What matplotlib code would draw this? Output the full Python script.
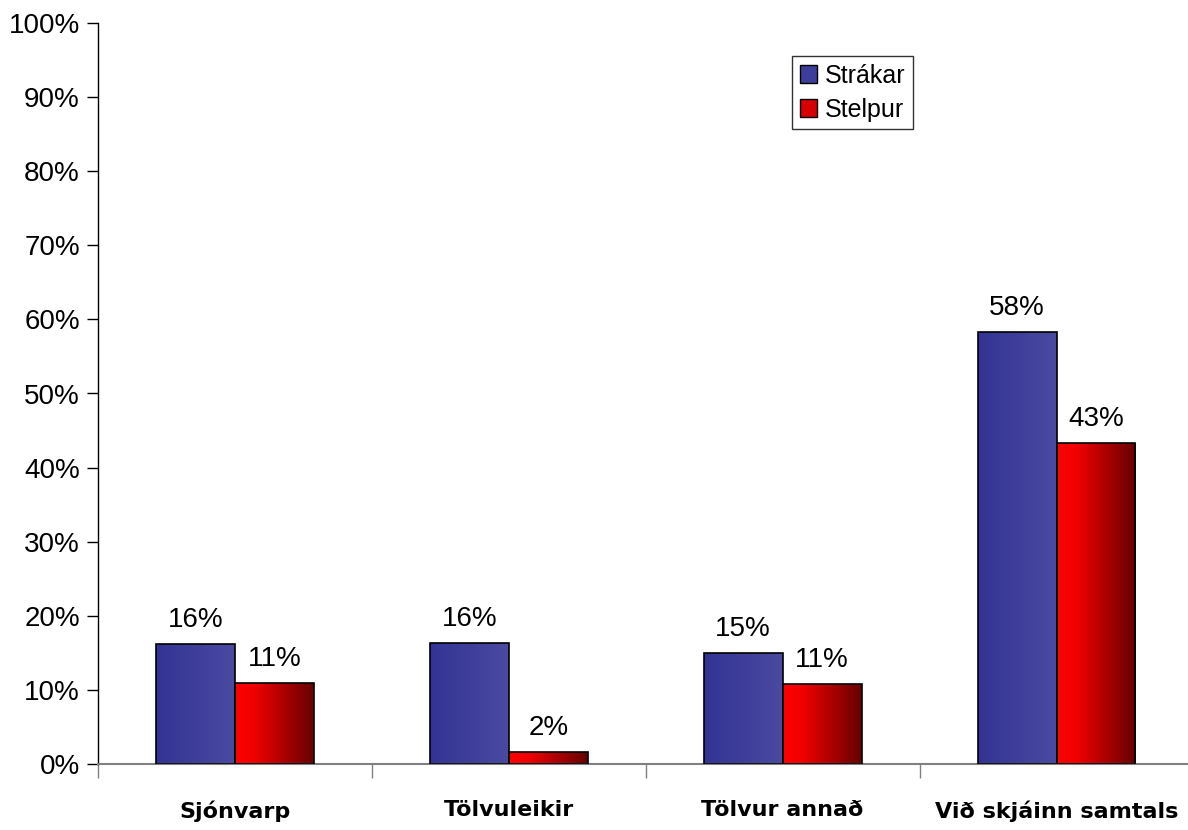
import numpy as np
import matplotlib
matplotlib.use("Agg")
import matplotlib.pyplot as plt
from matplotlib.colors import LinearSegmentedColormap
from matplotlib.patches import Rectangle
from matplotlib.ticker import FixedLocator, PercentFormatter

# data
categories = ["Sjónvarp", "Tölvuleikir", "Tölvur annað", "Við skjáinn samtals"]
strakar = [16.2, 16.3, 15.0, 58.3]
stelpur = [10.9, 1.6, 10.8, 43.3]
strakar_labels = ["16%", "16%", "15%", "58%"]
stelpur_labels = ["11%", "2%", "11%", "43%"]

plt.rcParams["font.family"] = ["Liberation Sans", "DejaVu Sans"]

blue_cmap = LinearSegmentedColormap.from_list("blue", ["#333395", "#4a4aa0"])
red_cmap = LinearSegmentedColormap.from_list("red", [(0, "#ff0000"), (0.25, "#f00000"), (1, "#660000")])

fig = plt.figure(figsize=(11.88, 8.30), dpi=100)
ax = fig.add_axes([98 / 1188, 66 / 830, 1090 / 1188, 741 / 830])

x = np.arange(len(categories))
w = 0.288


def gradient_bars(xs, heights, cmap):
    bars = ax.bar(xs, heights, width=w, color="none", edgecolor="black", linewidth=1.2, zorder=3)
    grad = np.linspace(0, 1, 256).reshape(1, -1)
    for b in bars:
        x0, y0 = b.get_x(), b.get_y()
        im = ax.imshow(grad, cmap=cmap, aspect="auto", zorder=2,
                       extent=[x0, x0 + b.get_width(), y0, y0 + b.get_height()])
        im.set_clip_path(b)
    return bars


b1 = gradient_bars(x - w / 2, strakar, blue_cmap)
b2 = gradient_bars(x + w / 2, stelpur, red_cmap)

for bars, labels in [(b1, strakar_labels), (b2, stelpur_labels)]:
    for b, lab in zip(bars, labels):
        ax.annotate(lab, (b.get_x() + b.get_width() / 2, b.get_height()),
                    xytext=(0, 8), textcoords="offset points",
                    ha="center", va="bottom", fontsize=20)

ax.set_xlim(-0.5, len(categories) - 0.5 - 0.02)
ax.set_ylim(0, 100)

ax.yaxis.set_major_locator(FixedLocator(np.arange(0, 101, 10)))
ax.yaxis.set_major_formatter(PercentFormatter(decimals=0))
ax.tick_params(axis="y", length=8, width=1, pad=5, labelsize=20, direction="out")

ax.set_xticks(x)
ax.set_xticklabels(categories, fontsize=16, fontweight="bold", family="DejaVu Sans")
ax.tick_params(axis="x", which="major", length=0, pad=26)
ax.xaxis.set_minor_locator(FixedLocator(np.arange(-0.5, len(categories), 1.0)))
ax.tick_params(axis="x", which="minor", length=10, width=1, color="#808080", direction="out")

for s in ["top", "right"]:
    ax.spines[s].set_visible(False)
ax.spines["bottom"].set_color("#808080")
ax.spines["bottom"].set_linewidth(1.5)
ax.spines["left"].set_linewidth(1)

handles = [Rectangle((0, 0), 1, 1, facecolor="#3d3d9b", edgecolor="black"),
           Rectangle((0, 0), 1, 1, facecolor="#d80000", edgecolor="black")]
leg = ax.legend(handles, ["Strákar", "Stelpur"], loc="upper left",
                bbox_to_anchor=(0.637, 0.955), fontsize=18, frameon=True,
                fancybox=False, handlelength=0.7, handleheight=0.7,
                handletextpad=0.3, borderpad=0.3, labelspacing=0.4,
                borderaxespad=0)
leg.get_frame().set_edgecolor("black")
leg.get_frame().set_linewidth(1)

fig.savefig("out.png", dpi=100)
